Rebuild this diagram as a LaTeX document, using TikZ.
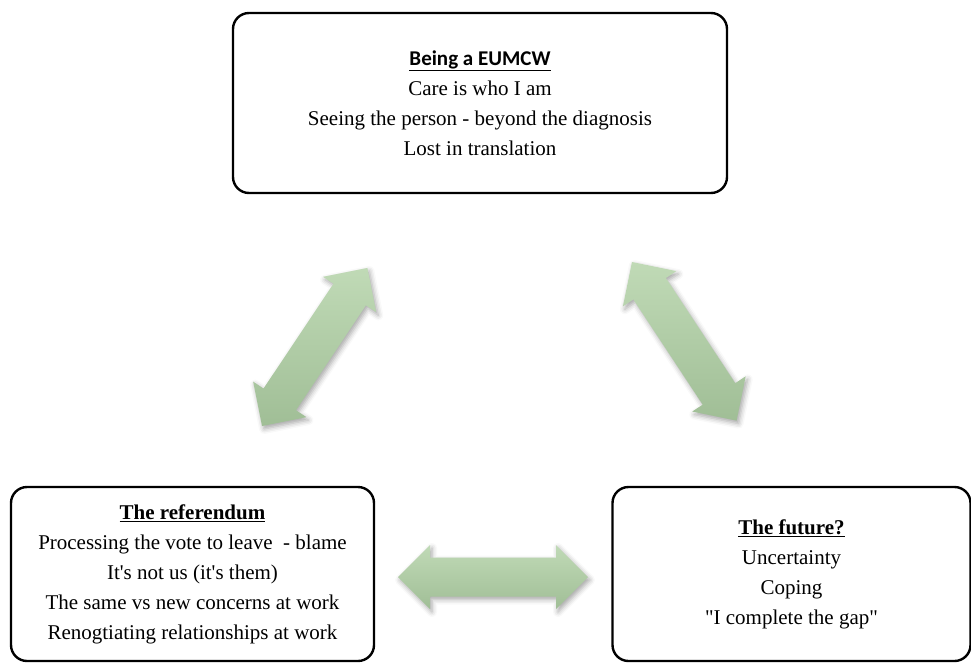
\documentclass[tikz,border=0pt]{standalone}
\usepackage{fontspec}
\setmainfont{Liberation Serif}
\newfontfamily\calibrifont{Carlito}
\usetikzlibrary{shadows.blur}

\definecolor{arrowlight}{RGB}{192,218,182}
\definecolor{arrowdark}{RGB}{160,190,150}

\begin{document}
\begin{tikzpicture}[x=1pt, y=-1pt,
    theme/.style={draw, line width=2.4pt, rounded corners=16pt, align=center,
        font=\fontsize{21}{30}\selectfont, inner sep=0pt},
    arrowbody/.style={top color=arrowlight, bottom color=arrowdark,
        blur shadow={shadow xshift=2pt, shadow yshift=-3pt, shadow opacity=35, shadow blur radius=5pt}},
    dblarrow/.pic={
        \shade[arrowbody] (0,0) -- (32,-32) -- (32,-19.5) -- (158,-19.5) -- (158,-32)
            -- (190,0) -- (158,32) -- (158,19.5) -- (32,19.5) -- (32,32) -- cycle;
    }]
    \useasboundingbox (0,0) rectangle (971,664);

    % Themes
    \node[theme, minimum width=494pt, minimum height=180pt] (being) at (480,103)
        {\underline{\calibrifont\bfseries Being a EUMCW}\\
         Care is who I am\\
         Seeing the person - beyond the diagnosis\\
         Lost in translation};
    \node[theme, minimum width=363pt, minimum height=174pt] (referendum) at (192.5,574)
        {\underline{\textbf{The referendum}}\\
         Processing the vote to leave\ \ - blame\\
         It\textquotesingle s not us (it\textquotesingle s them)\\
         The same vs new concerns at work\\
         Renogtiating relationships at work};
    \node[theme, minimum width=358pt, minimum height=174pt] (future) at (791.5,574)
        {\underline{\textbf{The future?}}\\
         Uncertainty\\
         Coping\\
         \textquotedbl I complete the gap\textquotedbl};

    % Links
    \pic (linkleft) [rotate=56.3] at (262,426) {dblarrow};
    \pic (linkright) [rotate=-56.6] at (632,262) {dblarrow};
    \pic (linkbottom) at (398,577) {dblarrow};
\end{tikzpicture}
\end{document}
